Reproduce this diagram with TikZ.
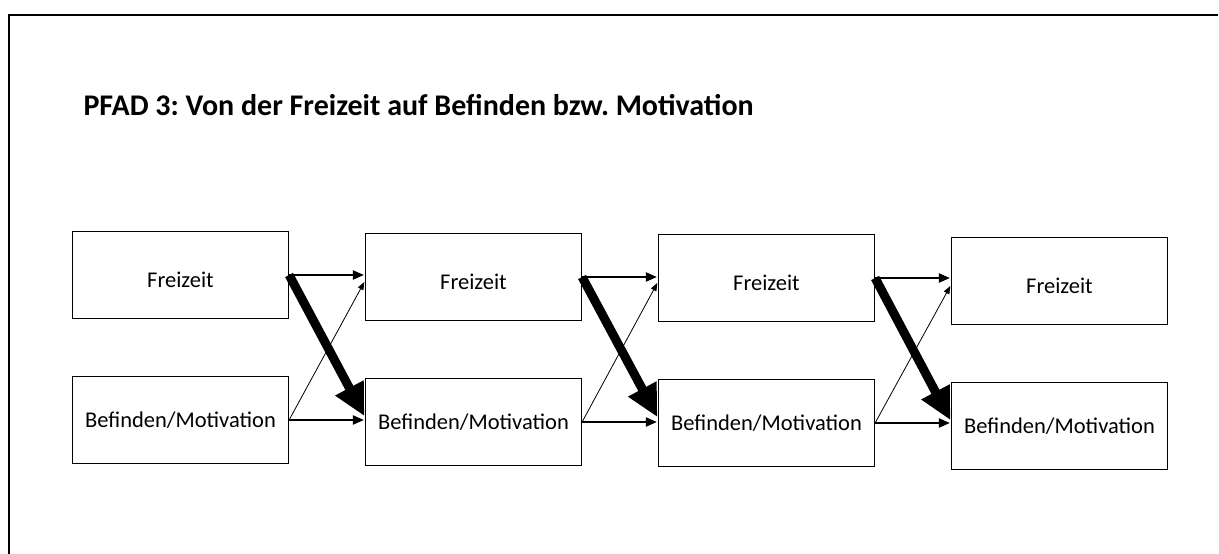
\documentclass[tikz,border=0pt]{standalone}
\usepackage{fontspec}
\setmainfont{Carlito}
\usetikzlibrary{positioning,arrows.meta}
\frenchspacing

\begin{document}
\begin{tikzpicture}
		[x=1pt,y=1pt,shorten >=1pt,node distance=145pt and 293pt,on grid,
		 box/.style={draw,line width=1.2pt,minimum width=216pt,minimum height=87pt,inner sep=0pt,font=\fontsize{22.5}{27}\selectfont},
		 upper/.style={box,text height=24pt,text depth=0pt},
		 flow/.style={-{Triangle[length=11pt,width=9pt]},line width=2pt},
		 weak/.style={-{Triangle[length=8pt,width=6pt]},line width=0.8pt},
		 strong/.style={-{Triangle[length=32pt,width=30pt]},line width=9pt}]
		\useasboundingbox (0,0) rectangle (1219,-554);
		\draw[line width=2.5pt] (9,-554) -- (9,-15) -- (1219,-15);
		\node[anchor=base west,font=\fontsize{30}{36}\selectfont\bfseries] (title) at (80,-115) {PFAD 3: Von der Freizeit auf Befinden bzw. Motivation};
		% Zeitpunkte
		\node[upper] (f1) at (180.5,-275) {Freizeit};
		\node[box] (b1) [below=of f1] {Befinden/Motivation};
		\node[upper] (f2) [right=of f1,yshift=-2pt] {Freizeit};
		\node[box] (b2) [below=of f2] {Befinden/Motivation};
		\node[upper] (f3) [right=of f2,yshift=-1pt] {Freizeit};
		\node[box] (b3) [below=of f3] {Befinden/Motivation};
		\node[upper] (f4) [right=of f3,yshift=-3pt] {Freizeit};
		\node[box] (b4) [below=of f4] {Befinden/Motivation};
		% Pfade
		\path
		(f1.east) 	edge [flow] (f1.east -| f2.west)
					edge [strong] ([yshift=5pt]b2.west)
		(b1.east) 	edge [flow] (b1.east -| b2.west)
					edge [weak] ([yshift=-4pt]f2.west)
		(f2.east) 	edge [flow] (f2.east -| f3.west)
					edge [strong] ([yshift=5pt]b3.west)
		(b2.east) 	edge [flow] (b2.east -| b3.west)
					edge [weak] ([yshift=-4pt]f3.west)
		(f3.east) 	edge [flow] (f3.east -| f4.west)
					edge [strong] ([yshift=5pt]b4.west)
		(b3.east) 	edge [flow] (b3.east -| b4.west)
					edge [weak] ([yshift=-4pt]f4.west)
		;
\end{tikzpicture}
\end{document}
